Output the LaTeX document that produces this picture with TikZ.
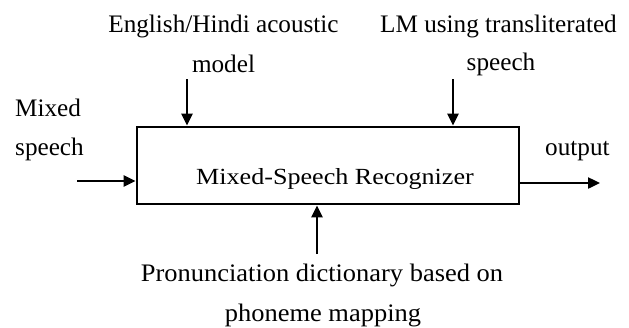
\documentclass[tikz,border=0pt]{standalone}
\usepackage{fontspec}
\setmainfont{Liberation Serif}
\newfontfamily\boxfont{Liberation Serif}[FakeStretch=1.13]
\newfontfamily\dictfont{Liberation Serif}[FakeStretch=1.05]
\usetikzlibrary{arrows.meta}
\begin{document}
\begin{tikzpicture}[x=1pt,y=-1pt,
  lbl/.style={inner sep=0pt,anchor=base,font=\fontsize{25.2}{30}\selectfont},
  feed/.style={line width=2.4pt,-{Triangle[length=12pt,width=11pt]}},
  block/.style={draw,line width=2.8pt,minimum width=382pt,minimum height=77pt,inner sep=0pt}]
  \useasboundingbox (0,0) rectangle (629,327);
  % recognizer block and its title
  \node[block] (rec) at (328,165.5) {};
  \node[lbl,font=\boxfont\fontsize{23.1}{28}\selectfont] (title) at (335,184) {Mixed-Speech Recognizer};
  % input labels
  \node[lbl] (am1) at (223.5,32) {English/Hindi acoustic};
  \node[lbl] (am2) at (223.5,72) {model};
  \node[lbl] (lm1) at (498.5,32) {LM using transliterated};
  \node[lbl] (lm2) at (501,70) {speech};
  \node[lbl,anchor=base west] (ms1) at (15,116) {Mixed};
  \node[lbl,anchor=base west] (ms2) at (15,155) {speech};
  \node[lbl,anchor=base west] (out) at (545,155) {output};
  \node[lbl,font=\dictfont\fontsize{25.2}{30}\selectfont] (pd1) at (322,281) {Pronunciation dictionary based on};
  \node[lbl,font=\dictfont\fontsize{25.2}{30}\selectfont] (pd2) at (323,321) {phoneme mapping};
  % free ends of the connectors
  \coordinate (amtail) at (187,79);
  \coordinate (lmtail) at (453,79);
  \coordinate (mstail) at (77,181);
  \coordinate (pdtail) at (317,254);
  \coordinate (outtip) at (600,183);
  % connectors
  \draw[feed] (amtail) -- (amtail |- rec.north);
  \draw[feed] (lmtail) -- (lmtail |- rec.north);
  \draw[feed] (mstail) -- (mstail -| rec.west);
  \draw[feed] (pdtail) -- (pdtail |- rec.south);
  \draw[feed] (outtip -| rec.east) -- (outtip);
\end{tikzpicture}
\end{document}
